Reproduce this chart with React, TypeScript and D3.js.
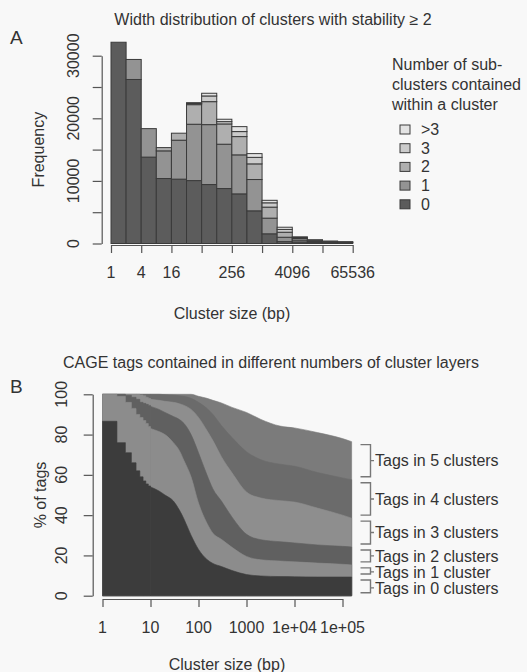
import React, { useRef, useEffect } from 'react';
import * as d3 from 'd3';

const W = 527;
const H = 672;
const FONT = '"Liberation Sans", Arial, Helvetica, sans-serif';
const TEXT = '#333333';
const AXIS = '#555555';

// ---- Panel A: width distribution (log2 bins) ----
const binStarts = [1, 2, 4, 8, 16, 32, 64, 128, 256, 512, 1024, 2048, 4096, 8192, 16384, 32768];
const subGroups = ['0', '1', '2', '3', '>3'];
const count0 = [32150, 26200, 13800, 10380, 10280, 10050, 9420, 8780, 7930, 5220, 1550, 300, 250, 150, 100, 80];
const count1 = [0, 3200, 4550, 4420, 6220, 9000, 9570, 7080, 6230, 5000, 2500, 700, 300, 180, 120, 80];
const count2 = [0, 0, 0, 520, 1120, 3130, 3670, 3240, 2920, 2500, 1760, 800, 250, 130, 80, 60];
const count3 = [0, 0, 0, 0, 0, 180, 910, 370, 800, 1040, 690, 450, 150, 80, 50, 30];
const countGt3 = [0, 0, 0, 0, 0, 140, 430, 380, 790, 600, 400, 350, 120, 60, 30, 20];
const subColors = ['#5c5c5c', '#939393', '#afafaf', '#cbcbcb', '#e3e3e3'];
const xTicksA = [1, 4, 16, 64, 256, 1024, 4096, 16384, 65536];
const xLabelsA = [1, 4, 16, 256, 4096, 65536];
const yTicksA = [0, 5000, 10000, 15000, 20000, 25000, 30000];
const yLabelsA = [0, 10000, 20000, 30000];
const legendTitleA = ['Number of sub-', 'clusters contained', 'within a cluster'];

// ---- Panel B: % of tags by number of cluster layers ----
const sizesB = [1, 2, 3, 4, 5, 6, 7, 8, 9, 10, 15, 20, 30, 40, 50, 70, 100, 150, 200, 300, 500,
  1000, 2000, 5000, 10000, 30000, 100000, 155000];
const cum0 = [86.6, 76, 71, 66, 62, 59, 57, 55.5, 54.5, 54, 52, 50, 47, 42.5, 38, 30, 23, 18, 16, 14.5, 12.5,
  10.5, 9.8, 9.5, 9.4, 9.3, 9.3, 9.3];
const cum1 = [100, 99, 96, 93, 90, 88.5, 87, 85.5, 84, 83, 81.5, 80, 76, 72, 67, 59, 46, 36, 31, 28, 24,
  19.5, 17.8, 17.2, 16.8, 16.2, 15.6, 15.3];
const cum2 = [100, 100, 99.5, 98.5, 97.5, 96, 95.5, 95, 94.5, 94, 92.5, 91, 89, 87.5, 85.5, 80, 71, 60, 53, 47, 39,
  30.5, 27.8, 26.8, 26.2, 25.2, 24.5, 24.2];
const cum3 = [100, 100, 100, 100, 100, 99.7, 99.3, 98.5, 98, 97.5, 97, 96.5, 96, 95.3, 94.5, 92.5, 88.5, 82, 77, 69, 61,
  51.5, 48.5, 47.2, 46.5, 43.5, 40, 38.5];
const cum4 = [100, 100, 100, 100, 100, 100, 100, 100, 100, 100, 100, 99.8, 99.6, 99.3, 99, 98, 96, 93, 90, 84.5, 78.5,
  71.5, 67.5, 65.3, 64.3, 61.2, 58.5, 57.6];
const cum5 = [100, 100, 100, 100, 100, 100, 100, 100, 100, 100, 100, 100, 100, 100, 100, 100, 99, 98, 97, 95.7, 93.5,
  91, 87.5, 84.2, 83.3, 81, 78, 76.5];
const layerColors = ['#3c3c3c', '#8c8c8c', '#606060', '#8e8e8e', '#6b6b6b', '#7b7b7b'];
const layerNames = ['Tags in 0 clusters', 'Tags in 1 cluster', 'Tags in 2 clusters',
  'Tags in 3 clusters', 'Tags in 4 clusters', 'Tags in 5 clusters'];
const xTicksB = [1, 10, 100, 1000, 10000, 100000];
const xLabelsB = ['1', '10', '100', '1000', '1e+04', '1e+05'];
const yTicksB = [0, 20, 40, 60, 80, 100];

type Sel = d3.Selection<SVGSVGElement, unknown, null, undefined>;

const addText = (g: Sel, x: number, y: number, txt: string, size: number, anchor = 'middle', rotate = false) =>
  g.append('text')
    .attr('x', rotate ? 0 : x)
    .attr('y', rotate ? 0 : y)
    .attr('transform', rotate ? `translate(${x},${y}) rotate(-90)` : null)
    .attr('text-anchor', anchor)
    .attr('font-family', FONT)
    .attr('font-size', size)
    .attr('fill', TEXT)
    .text(txt);

const drawPanelA = (svg: Sel) => {
  const x = d3.scaleLog().base(2).domain([1, 65536]).range([111, 352.7]);
  const y = d3.scaleLinear().domain([0, 30000]).range([243.5, 55.7]);

  const series = [count0, count1, count2, count3, countGt3];
  const rows = binStarts.map((b, i) => {
    const r: Record<string, number> = { start: b };
    subGroups.forEach((k, j) => { r[k] = series[j][i]; });
    return r;
  });
  const stacked = d3.stack<Record<string, number>>().keys(subGroups)(rows);

  stacked.forEach((layer, j) => {
    svg.append('g').selectAll('rect')
      .data(layer.filter(d => d[1] - d[0] > 0))
      .join('rect')
      .attr('x', d => x(d.data.start))
      .attr('width', d => x(d.data.start * 2) - x(d.data.start))
      .attr('y', d => y(d[1]))
      .attr('height', d => y(d[0]) - y(d[1]))
      .attr('fill', subColors[j])
      .attr('stroke', '#3a3a3a')
      .attr('stroke-width', 1);
  });

  // y axis
  svg.append('g')
    .attr('transform', 'translate(101.7,0)')
    .call(d3.axisLeft(y).tickValues(yTicksA).tickSize(9).tickSizeOuter(0).tickFormat(() => ''))
    .attr('color', AXIS)
    .selectAll('path,line').attr('stroke-width', 1.2);
  yLabelsA.forEach(v => addText(svg, 79, y(v), String(v), 16, 'middle', true));

  // x axis
  svg.append('g')
    .attr('transform', 'translate(0,245)')
    .call(d3.axisBottom(x).tickValues(xTicksA).tickSize(8).tickSizeOuter(0).tickFormat(() => ''))
    .attr('color', AXIS)
    .selectAll('path,line').attr('stroke-width', 1.2);
  xLabelsA.forEach(v => addText(svg, x(v), 278, String(v), 16));

  addText(svg, 273, 25, 'Width distribution of clusters with stability \u2265 2', 16);
  addText(svg, 232, 319, 'Cluster size (bp)', 16);
  addText(svg, 44, (y(0) + y(30000)) / 2, 'Frequency', 16, 'middle', true);
  addText(svg, 10, 44, 'A', 19, 'start');

  // legend
  legendTitleA.forEach((t, i) => addText(svg, 392, 70 + i * 20, t, 16, 'start'));
  const legendOrder = subGroups.map((_, j) => subGroups.length - 1 - j);
  legendOrder.forEach((j, i) => {
    const cy = 129.5 + i * 18.7;
    svg.append('rect')
      .attr('x', 400).attr('y', cy - 4.5).attr('width', 10).attr('height', 9)
      .attr('fill', subColors[j]).attr('stroke', '#3a3a3a').attr('stroke-width', 1);
    addText(svg, 421, cy + 5.5, subGroups[j], 16, 'start');
  });
};

const drawPanelB = (svg: Sel) => {
  const x = d3.scaleLog().domain([1, 100000]).range([102.5, 342.5]);
  const y = d3.scaleLinear().domain([0, 100]).range([595.7, 394.3]);
  const cums = [cum0, cum1, cum2, cum3, cum4, cum5];

  const pts = sizesB.map((s, i) => ({ s, i }));
  const stepPts = pts.filter(p => p.s <= 10);
  const smoothPts = pts.filter(p => p.s >= 10);

  for (let k = cums.length - 1; k >= 0; k--) {
    const cum = cums[k];
    const stepArea = d3.area<{ s: number; i: number }>()
      .x(p => x(p.s)).y0(y(0)).y1(p => y(cum[p.i]))
      .curve(d3.curveStepAfter);
    const smoothArea = d3.area<{ s: number; i: number }>()
      .x(p => x(p.s)).y0(y(0)).y1(p => y(cum[p.i]))
      .curve(d3.curveMonotoneX);
    [[stepPts, stepArea], [smoothPts, smoothArea]].forEach(([data, gen]: any) => {
      svg.append('path')
        .datum(data)
        .attr('d', gen)
        .attr('fill', layerColors[k])
        .attr('stroke', layerColors[k])
        .attr('stroke-width', 0.6);
    });
  }

  // axes
  svg.append('g')
    .attr('transform', 'translate(92.7,0)')
    .call(d3.axisLeft(y).tickValues(yTicksB).tickSize(9).tickSizeOuter(0).tickFormat(() => ''))
    .attr('color', AXIS)
    .selectAll('path,line').attr('stroke-width', 1.2);
  yTicksB.forEach(v => addText(svg, 67, y(v), String(v), 16, 'middle', true));

  svg.append('g')
    .attr('transform', 'translate(0,599)')
    .call(d3.axisBottom(x).tickValues(xTicksB).tickSize(8).tickSizeOuter(0).tickFormat(() => ''))
    .attr('color', AXIS)
    .selectAll('path,line').attr('stroke-width', 1.2);
  xTicksB.forEach((v, i) => addText(svg, x(v), 633, xLabelsB[i], 16));

  addText(svg, 271, 368, 'CAGE tags contained in different numbers of cluster layers', 16);
  addText(svg, 227, 670, 'Cluster size (bp)', 16);
  addText(svg, 46, (y(0) + y(100)) / 2, '% of tags', 16, 'middle', true);
  addText(svg, 10, 393, 'B', 19, 'start');

  // brackets with labels at the right edge
  const last = sizesB.length - 1;
  const spans = cums.map((c, k) => ({
    top: y(c[last]) + 3,
    bot: y(k === 0 ? 0 : cums[k - 1][last]) - 3,
  }));
  const labelY: number[] = spans.map(s => (s.top + s.bot) / 2);
  for (let k = cums.length - 2; k >= 0; k--) {
    if (labelY[k] < labelY[k + 1] + 16) labelY[k] = labelY[k + 1] + 16;
  }
  const bx0 = 360.5;
  const bx1 = 370.5;
  spans.forEach((s, k) => {
    const ly = Math.min(Math.max(labelY[k], s.top), s.bot);
    svg.append('path')
      .attr('d', `M${bx0},${s.top}H${bx1}V${s.bot}H${bx0}M${bx1},${ly}h3.5`)
      .attr('fill', 'none')
      .attr('stroke', '#777777')
      .attr('stroke-width', 1.4);
    svg.append('text')
      .attr('x', 375)
      .attr('y', labelY[k])
      .attr('dy', '0.35em')
      .attr('font-family', FONT)
      .attr('font-size', 16)
      .attr('fill', TEXT)
      .text(layerNames[k]);
  });
};

const App: React.FC = () => {
  const svgRef = useRef<SVGSVGElement>(null);

  useEffect(() => {
    if (!svgRef.current) return;
    const svg = d3.select(svgRef.current);
    svg.selectAll('*').remove();
    svg.append('rect').attr('width', W).attr('height', H).attr('fill', '#f8f8f8');
    drawPanelA(svg);
    drawPanelB(svg);
  }, []);

  return (
    <svg
      ref={svgRef}
      width={W}
      height={H}
      style={{ position: 'fixed', left: 0, top: 0, display: 'block' }}
    />
  );
};

export default App;
